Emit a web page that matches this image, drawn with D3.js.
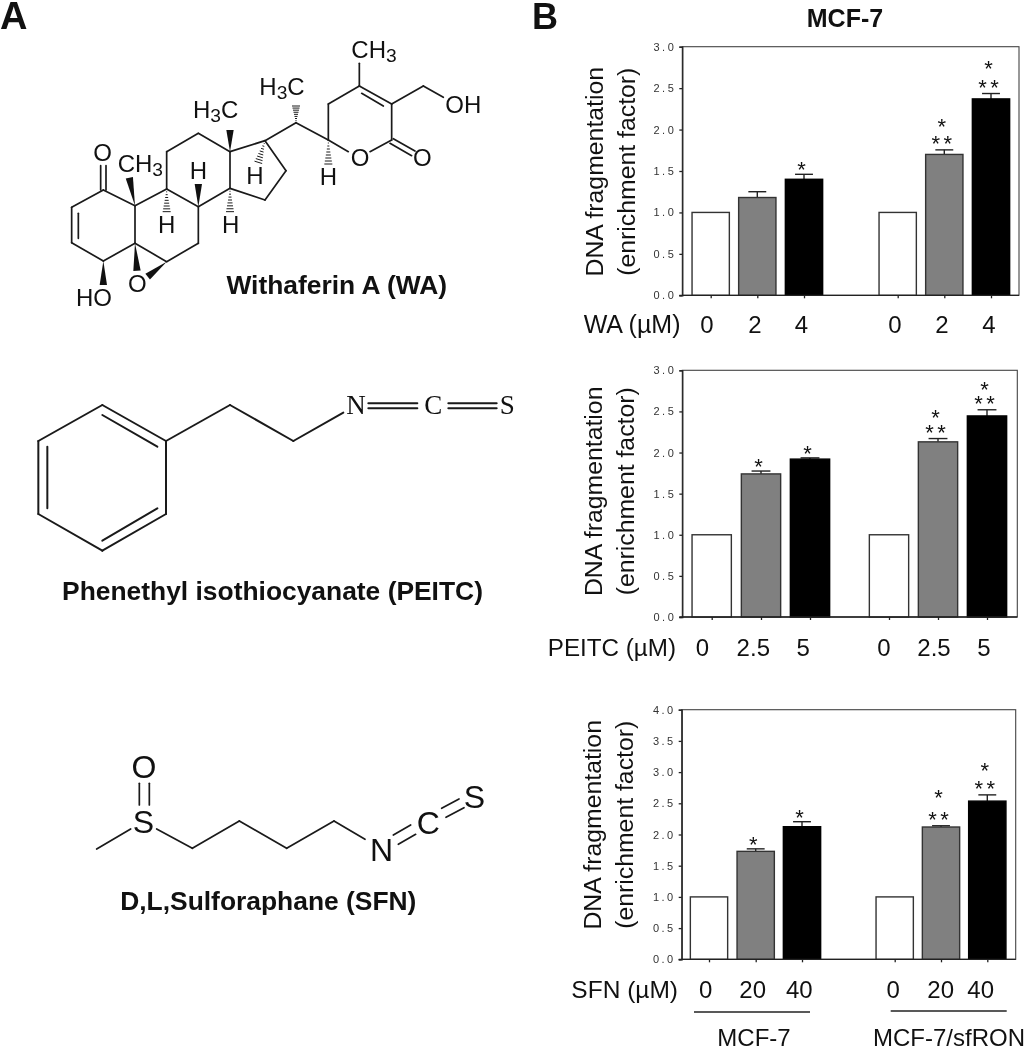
<!DOCTYPE html>
<html>
<head>
<meta charset="utf-8">
<script src="https://cdn.jsdelivr.net/npm/d3@7"></script>
<style>
  html, body { margin: 0; padding: 0; background: #fff; }
  svg { display: block; filter: blur(0.35px); }
  text { font-family: "Liberation Sans", Arial, sans-serif; fill: #111; }
</style>
</head>
<body>
<svg id="fig" width="1027" height="1050"></svg>
<script>
// ---- data ----
const barFills = ["#ffffff", "#808080", "#000000", "#ffffff", "#808080", "#000000"];

const wa_doses = ["0", "2", "4", "0", "2", "4"];
const wa_values = [1.0, 1.18, 1.40, 1.0, 1.70, 2.37];
const wa_errors = [0, 0.07, 0.06, 0, 0.055, 0.065];
const wa_ticks = [0, 0.5, 1, 1.5, 2, 2.5, 3];

const peitc_doses = ["0", "2.5", "5", "0", "2.5", "5"];
const peitc_values = [1.0, 1.74, 1.92, 1.0, 2.13, 2.445];
const peitc_errors = [0, 0.035, 0.015, 0, 0.04, 0.075];
const peitc_ticks = [0, 0.5, 1, 1.5, 2, 2.5, 3];

const sfn_doses = ["0", "20", "40", "0", "20", "40"];
const sfn_values = [1.0, 1.73, 2.125, 1.0, 2.12, 2.535];
const sfn_errors = [0, 0.04, 0.08, 0, 0.02, 0.1];
const sfn_ticks = [0, 0.5, 1, 1.5, 2, 2.5, 3, 3.5, 4];

const sig_low = {
  wa: ["", "", "*", "", "* *", "* *"],
  peitc: ["", "*", "*", "", "* *", "* *"],
  sfn: ["", "*", "*", "", "* *", "* *"]
};
const sig_high = ["", "", "", "", "*", "*"];

const group_names = ["MCF-7", "MCF-7/sfRON"];

// ---- molecule drawings, in drawing units (3 units = 1 px) ----
const wa_bonds = [
  [310,570,215,622],[215,622,215,728],[215,728,310,783],[310,783,405,730],[405,730,405,617],[405,617,310,570],
  [235,640,235,715],[302,570,302,497],[318,570,318,497],
  [405,617,500,567],[500,567,595,620],[595,620,595,730],[595,730,500,785],[500,785,405,730],
  [500,567,500,455],[500,455,595,400],[595,400,690,455],[690,455,690,565],[690,565,595,620],
  [690,455,795,422],[795,422,858,512],[858,512,795,600],[795,600,690,565],
  [795,422,888,368],[888,368,985,420],[985,420,1045,455],[1110,455,1175,420],
  [1175,420,1175,312],[1175,312,1078,258],[1150,318,1085,280],[1078,258,985,312],[985,312,985,420],
  [1078,258,1078,190],[1175,312,1270,258],[1270,258,1330,292],
  [1170,430,1235,467],[1180,416,1245,453]
];
const wa_wedges = [
  [690,455,690,390],[405,617,388,533],[595,620,595,552],[310,783,310,855],[405,730,411,812],[500,785,443,830]
];
const wa_hashes = [
  [500,567,500,635],[690,565,690,635],[795,422,775,487],[985,420,985,492],[888,368,888,318]
];
const wa_atoms = [
  ["CH3",1122,175],["H3C",846,285],["H3C",647,355],["CH3",421,517],["O",308,482],["OH",1390,338],
  ["O",1080,497],["O",1267,497],["H",595,537],["H",765,552],["H",985,555],["H",500,700],["H",692,700],
  ["O",412,876],["HO",282,917]
];

const peitc_bonds = [
  [307,105,498,213],[498,213,498,432],[498,432,307,542],[307,542,115,432],[115,432,115,213],[115,213,307,105],
  [307,135,472,230],[472,415,307,512],[142,230,142,415],
  [498,213,690,105],[690,105,880,213],[880,213,1030,128],
  [1105,100,1252,100],[1105,115,1252,115],[1345,100,1490,100],[1345,115,1490,115]
];
const peitc_atoms = [["N",1068,133],["C",1300,133],["S",1522,133]];

const sfn_bonds = [
  [110,357,212,297],[290,297,397,355],[397,355,538,273],[538,273,680,355],[680,355,822,273],[822,273,915,328],
  [1000,315,1052,285],[1015,343,1067,313],[1145,235,1197,207],[1158,262,1212,233],
  [238,160,238,225],[268,160,268,225]
];
const sfn_atoms = [["O",252,145],["S",250,310],["N",965,392],["C",1105,312],["S",1243,233]];

const svg = d3.select("#fig");
svg.append("rect").attr("width", 1027).attr("height", 1050).attr("fill", "#fff");

// ---- panel letters and headings ----
function label(x, y, str, size, bold, anchor) {
  return svg.append("text").attr("x", x).attr("y", y).text(str)
    .style("font-size", size + "px")
    .style("font-weight", bold ? "bold" : "normal")
    .attr("text-anchor", anchor || "middle");
}

label(0, 29, "A", 38, true, "start");
label(532, 28.5, "B", 36, true, "start");
label(845, 26.5, "MCF-7", 25, true);
label(336.7, 294, "Withaferin A (WA)", 26.4, true);
label(272.5, 600, "Phenethyl isothiocyanate (PEITC)", 26.4, true);
label(268.3, 910, "D,L,Sulforaphane (SFN)", 26.4, true);

// ---- structures ----
function drawMolecule(ox, oy, bonds, atoms, opts) {
  let sx = d3.scaleLinear().domain([0, 3]).range([ox, ox + 1]);
  let sy = d3.scaleLinear().domain([0, 3]).range([oy, oy + 1]);
  let g = svg.append("g");
  let line = d3.line().x(d => sx(d[0])).y(d => sy(d[1]));

  g.selectAll("path.bond").data(bonds).join("path")
    .attr("class", "bond")
    .attr("d", d => line([[d[0], d[1]], [d[2], d[3]]]))
    .attr("fill", "none").attr("stroke", "#1a1a1a")
    .attr("stroke-width", opts.width).attr("stroke-linecap", "round");

  // solid wedges, narrow end first
  g.selectAll("path.wedge").data(opts.wedges || []).join("path")
    .attr("class", "wedge")
    .attr("fill", "#111")
    .attr("d", d => {
      let dx = d[2] - d[0], dy = d[3] - d[1], len = Math.hypot(dx, dy);
      let nx = -dy / len * 11, ny = dx / len * 11;
      return line([[d[0], d[1]], [d[2] + nx, d[3] + ny], [d[2] - nx, d[3] - ny]]) + "Z";
    });

  // hashed wedges
  (opts.hashes || []).forEach(d => {
    let dx = d[2] - d[0], dy = d[3] - d[1], len = Math.hypot(dx, dy);
    let steps = d3.range(1, 9).map(i => i / 8);
    g.selectAll(null).data(steps).join("path")
      .attr("d", t => {
        let px = d[0] + dx * t, py = d[1] + dy * t, w = 12 * t;
        let nx = -dy / len * w, ny = dx / len * w;
        return line([[px + nx, py + ny], [px - nx, py - ny]]);
      })
      .attr("stroke", "#1a1a1a").attr("stroke-width", 1);
  });

  atoms.forEach(a => {
    let t = g.append("text").attr("x", sx(a[1])).attr("y", sy(a[2]))
      .attr("text-anchor", "middle")
      .style("font-size", opts.font + "px")
      .style("font-family", opts.family || null);
    let lowered = false;
    a[0].split(/(\d)/).filter(s => s.length).forEach(part => {
      if (/\d/.test(part)) {
        t.append("tspan").attr("dy", "0.2em").style("font-size", "0.8em").text(part);
        lowered = true;
      } else {
        t.append("tspan").attr("dy", lowered ? "-0.16em" : null).text(part);
        lowered = false;
      }
    });
  });
}

drawMolecule(0, 0, wa_bonds, wa_atoms, { width: 1.7, font: 24, wedges: wa_wedges, hashes: wa_hashes });
drawMolecule(0, 370, peitc_bonds, peitc_atoms, { width: 2, font: 27, family: "Liberation Serif" });
drawMolecule(60, 730, sfn_bonds, sfn_atoms, { width: 1.7, font: 32 });

// ---- bar panels ----
function drawPanel(p) {
  let y = d3.scaleLinear().domain(p.domain).range([p.bottom, p.top]);
  let x = d3.scaleLinear().domain(d3.range(6)).range(p.slots);
  let g = svg.append("g");
  let bw = p.barWidth;

  g.append("rect").attr("x", p.left).attr("y", p.top)
    .attr("width", p.right - p.left).attr("height", p.bottom - p.top)
    .attr("fill", "none").attr("stroke", "#444").attr("stroke-width", 1.1);

  // error bars go behind the bars
  let withErr = p.values.map((v, i) => ({ v: v, e: p.errors[i], i: i })).filter(d => d.e > 0);
  g.selectAll("line.stem").data(withErr).join("line")
    .attr("class", "stem")
    .attr("x1", d => x(d.i)).attr("x2", d => x(d.i))
    .attr("y1", d => y(d.v)).attr("y2", d => y(d.v + d.e))
    .attr("stroke", "#222").attr("stroke-width", 1.4);
  g.selectAll("line.cap").data(withErr).join("line")
    .attr("class", "cap")
    .attr("x1", d => x(d.i) - bw * 0.24).attr("x2", d => x(d.i) + bw * 0.24)
    .attr("y1", d => y(d.v + d.e)).attr("y2", d => y(d.v + d.e))
    .attr("stroke", "#222").attr("stroke-width", 1.4);

  g.selectAll("rect.bar").data(p.values).join("rect")
    .attr("class", "bar")
    .attr("x", (d, i) => x(i) - bw / 2)
    .attr("y", d => y(d))
    .attr("width", bw)
    .attr("height", d => p.bottom - y(d))
    .attr("fill", (d, i) => barFills[i])
    .attr("stroke", (d, i) => i % 3 == 2 ? "#000" : "#333")
    .attr("stroke-width", 1.4);

  let yAxis = d3.axisLeft(y).tickValues(p.ticks).tickFormat(d3.format(".1f")).tickSize(3).tickPadding(3);
  let yG = g.append("g").attr("transform", "translate(" + p.left + ",0)").call(yAxis);
  yG.selectAll("text").style("font-size", "11px").style("letter-spacing", "2.5px").style("fill", "#333")
    .style("font-family", "Liberation Sans");
  yG.selectAll("path,line").attr("stroke", "#222").attr("stroke-width", 1.3);

  let xAxis = d3.axisBottom(x).tickValues(d3.range(6)).tickFormat("").tickSize(3).tickSizeOuter(0);
  let xG = g.append("g").attr("transform", "translate(0," + p.bottom + ")").call(xAxis);
  xG.select("path").attr("d", "M" + (p.left - 3) + ",0H" + p.right);
  xG.selectAll("path,line").attr("stroke", "#222").attr("stroke-width", 1.3);

  // significance stars, both rows in one text so they stack tightly
  p.values.forEach((v, i) => {
    if (!p.low[i]) return;
    let base = y(v + p.errors[i]);
    let lowY = base - (p.low[i] == "*" ? 8 : 10) + 11;
    let t = label(x(i) - 2.5, lowY, "", 22, false).style("word-spacing", "-2.5px");
    if (sig_high[i]) {
      t.append("tspan").attr("x", x(i) - 2.5).attr("y", base - p.hiGap[i] + 11).text(sig_high[i]);
    }
    t.append("tspan").attr("x", x(i) - 2.5).attr("y", lowY).text(p.low[i]);
  });

  // axis titles
  ["DNA fragmentation", "(enrichment factor)"].forEach((s, i) => {
    svg.append("text")
      .attr("transform", "translate(" + p.titleX[i] + "," + p.titleY + ") rotate(-90)")
      .attr("text-anchor", "middle")
      .style("font-size", "24.8px")
      .text(s);
  });

  label(p.doseEnd, p.doseY, p.doseName, p.doseSize, false, "end");
  p.doses.forEach((d, i) => label(p.doseX[i], p.doseY, d, 24, false));
}

drawPanel({
  values: wa_values, errors: wa_errors, ticks: wa_ticks, doses: wa_doses, low: sig_low.wa,
  domain: [0, 3], top: 46.7, bottom: 295.3, left: 682.3, right: 1019,
  slots: [710.7, 757.3, 804, 897.7, 944.3, 991], barWidth: 37.3,
  hiGap: [0, 0, 0, 0, 26.5, 28.5], titleX: [603, 635], titleY: 171.7,
  doseName: "WA (µM)", doseSize: 25, doseEnd: 680.5, doseY: 333,
  doseX: [707, 755, 801.5, 895, 942, 989]
});

drawPanel({
  values: peitc_values, errors: peitc_errors, ticks: peitc_ticks, doses: peitc_doses, low: sig_low.peitc,
  domain: [0, 3], top: 370.3, bottom: 617, left: 682.3, right: 1017.3,
  slots: [711.7, 761, 810, 889, 938, 987], barWidth: 39.3,
  hiGap: [0, 0, 0, 0, 25, 24], titleX: [602, 634], titleY: 491.3,
  doseName: "PEITC (µM)", doseSize: 24.2, doseEnd: 676, doseY: 656,
  doseX: [702.5, 753.3, 803.3, 884, 934, 984]
});

drawPanel({
  values: sfn_values, errors: sfn_errors, ticks: sfn_ticks, doses: sfn_doses, low: sig_low.sfn,
  domain: [0, 4], top: 709.7, bottom: 959.3, left: 681.7, right: 1015.7,
  slots: [709, 755.7, 802, 894.7, 941, 987.3], barWidth: 37.3,
  hiGap: [0, 0, 0, 0, 31.5, 27.7], titleX: [600.5, 633], titleY: 824.8,
  doseName: "SFN (µM)", doseSize: 24.5, doseEnd: 678, doseY: 998,
  doseX: [705.7, 752.7, 799.3, 893.3, 940.7, 980.7]
});

// group rules under the last panel
const groupX = d3.scalePoint().domain(group_names).range([754, 949]);
const groupRule = d3.scaleOrdinal().domain(group_names).range([[694, 810, 1012], [890.7, 1006.7, 1011]]);
group_names.forEach(n => {
  let r = groupRule(n);
  svg.append("line").attr("x1", r[0]).attr("x2", r[1]).attr("y1", r[2]).attr("y2", r[2])
    .attr("stroke", "#222").attr("stroke-width", 1.4);
  label(groupX(n), 1046, n, 24, false);
});
</script>
</body>
</html>
